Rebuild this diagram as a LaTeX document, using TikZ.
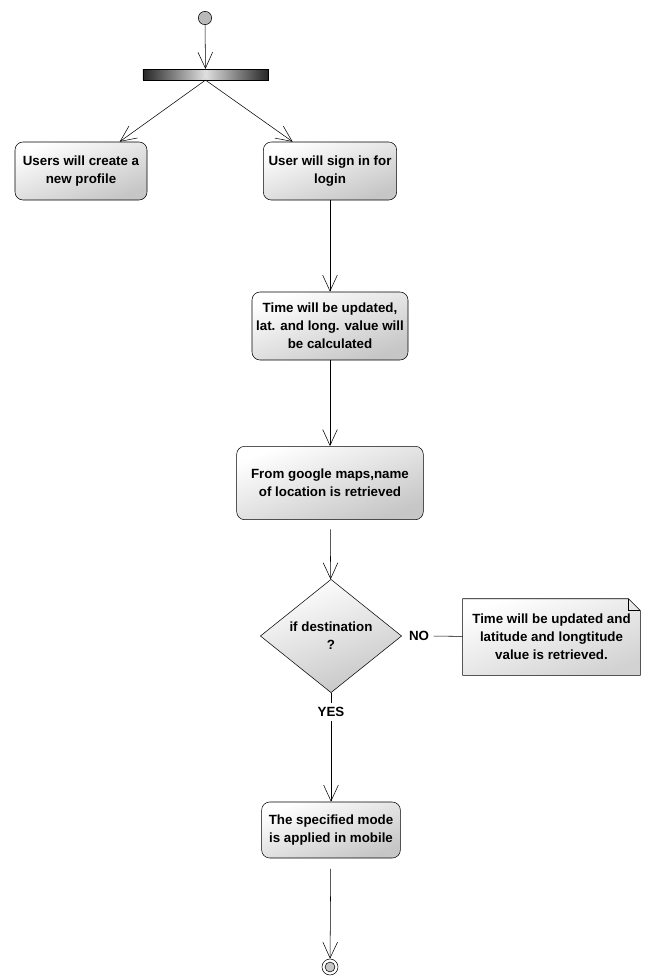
\documentclass[tikz,border=0pt]{standalone}
\usepackage{fontspec}
\setmainfont{Liberation Sans}
\usetikzlibrary{arrows.meta, shapes.geometric}

\tikzset{
  act/.style={draw, rounded corners=6pt, align=center, inner sep=2pt,
    top color=white, bottom color=gray!45, shading angle=20},
  decision/.style={draw, diamond, align=center, inner sep=0pt,
    top color=white, bottom color=gray!45, shading angle=20},
  initstate/.style={draw, circle, fill=gray!55, minimum size=10pt, inner sep=0pt},
  endstate/.style={draw, circle, fill=white, minimum size=12pt, inner sep=0pt,
    path picture={\draw[fill=gray!45] (path picture bounding box.center) circle (3.7pt);}},
  forkbar/.style={draw, rectangle, inner sep=0pt, minimum width=94pt, minimum height=8pt,
    left color=black!85, right color=black!85, middle color=gray!25},
  notebox/.style={align=center, inner sep=2pt, minimum width=133pt, minimum height=57pt},
}

\begin{document}
\begin{tikzpicture}[x=0.75pt, y=-0.75pt, font=\bfseries\fontsize{10}{13.5}\selectfont,
  >={Straight Barb[length=12pt, width=11pt]}]
  \useasboundingbox (0,0) rectangle (644,979);

  % states and activities
  \node[initstate] (start) at (205,18) {};
  \node[forkbar] (fork) at (205.5,74.5) {};
  \node[act, minimum width=99pt, minimum height=43.5pt] (newprofile) at (81,171)
    {Users will create a\\new profile};
  \node[act, minimum width=100pt, minimum height=43.5pt] (signin) at (330,171)
    {User will sign in for\\login};
  \node[act, minimum width=117pt, minimum height=51pt] (update) at (330,326)
    {Time will be updated,\\lat. and long. value will\\be calculated};
  \node[act, minimum width=140pt, minimum height=55pt] (maps) at (330,483)
    {From google maps,name\\of location is retrieved};
  \node[decision, minimum width=106pt, minimum height=85pt] (dest) at (331,636)
    {if destination\\?};
  \node (no) at (419,636) {NO};
  \node (yes) at (331,712) {YES};
  \node[notebox] (note) at (551.5,637)
    {Time will be updated and\\latitude and longtitude\\value is retrieved.};
  \node[act, minimum width=104pt, minimum height=42pt] (mode) at (331,830)
    {The specified mode\\is applied in mobile};
  \node[endstate] (stop) at (330,967) {};

  % note with folded corner
  \draw[top color=white, bottom color=gray!35, shading angle=20]
    (note.north west) -- ([xshift=-9pt]note.north east)
    -- ([yshift=-9pt]note.north east) -- (note.south east)
    -- (note.south west) -- cycle;
  \draw ([xshift=-9pt]note.north east) -- ([xshift=-9pt,yshift=-9pt]note.north east)
    -- ([yshift=-9pt]note.north east);
  \node[notebox] at (note) {Time will be updated and\\latitude and longtitude\\value is retrieved.};

  % transitions
  \draw[->] (start) -- (fork);
  \draw[->] (fork.south) -- ([xshift=29pt]newprofile.north);
  \draw[->] (fork.south) -- ([xshift=-28pt]signin.north);
  \draw[->] (signin) -- (update);
  \draw[->] (update) -- (maps);
  \draw[->, shorten <=7pt] (maps) -- (dest);
  \draw (no) -- (note);
  \draw (dest) -- (yes);
  \draw[->] (yes) -- (mode);
  \draw[->, shorten <=8pt] (mode) -- (stop);
\end{tikzpicture}
\end{document}
